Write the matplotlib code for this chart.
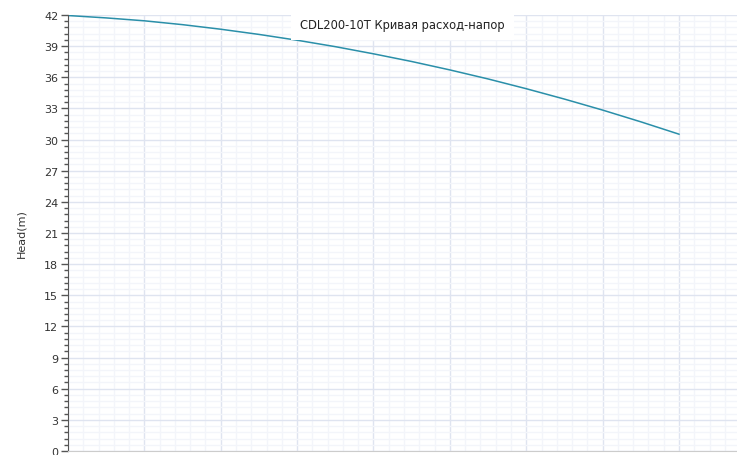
import numpy as np
import matplotlib.pyplot as plt
from matplotlib.ticker import MultipleLocator

# flow points (m3/h) and head
flow = [0, 15, 30, 45, 60, 75, 90, 105, 120, 135, 150, 165, 180, 195, 210, 225, 240]
head = [41.95, 41.72, 41.44, 41.07, 40.63, 40.13, 39.57, 38.95, 38.26,
        37.52, 36.71, 35.84, 34.90, 33.90, 32.84, 31.71, 30.52]
title = "CDL200-10T Кривая расход-напор"
y_label = "Head(m)"

plt.rcParams['font.family'] = ['DejaVu Sans']

fig = plt.figure(figsize=(7.37, 4.56), dpi=100)
ax = fig.add_axes([68 / 737, 4 / 456, 669 / 737, 436 / 456])

ax.plot(flow, head, color='#2a8fa9', linewidth=1.1, zorder=2,
        solid_joinstyle='round')

ax.set_xlim(0, 669 / 76.375 * 30)
ax.set_ylim(0, 42)
ax.xaxis.set_major_locator(MultipleLocator(30))
ax.xaxis.set_minor_locator(MultipleLocator(6))
ax.yaxis.set_major_locator(MultipleLocator(3))
ax.yaxis.set_minor_locator(MultipleLocator(0.6))

ax.grid(which='major', color='#dfe4f0', linewidth=1.0, zorder=0)
ax.grid(which='minor', color='#f3f5fa', linewidth=1.0, zorder=0)
ax.set_axisbelow(True)

for s in ['top', 'right']:
    ax.spines[s].set_visible(False)
ax.spines['left'].set_color('#555555')
ax.spines['bottom'].set_color('#cccccc')

ax.tick_params(axis='y', which='major', length=5, width=1, color='#555555',
               labelsize=8, labelcolor='#333333', pad=2)
ax.tick_params(axis='y', which='minor', length=3, width=1, color='#555555')
ax.tick_params(axis='x', which='both', length=0, labelbottom=False)

ax.set_ylabel(y_label, fontsize=8, color='#333333', labelpad=13)

ax.text(0.5, 1 - 9 / 436, title, transform=ax.transAxes, ha='center', va='center',
        fontsize=8.3, color='#222222', zorder=3,
        bbox=dict(facecolor='white', edgecolor='none', boxstyle='square,pad=0.8'))

fig.savefig('out.png', dpi=100)
